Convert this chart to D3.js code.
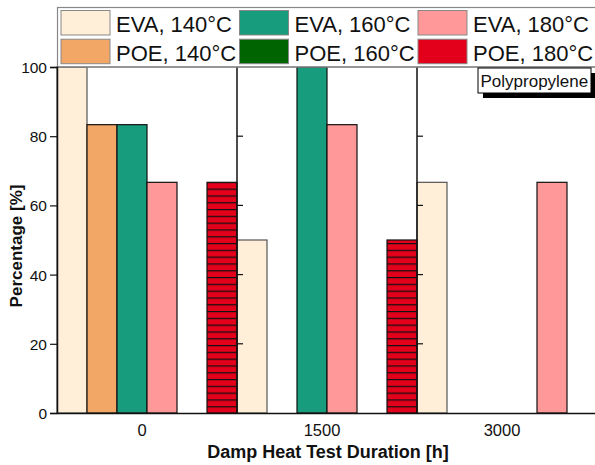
<!DOCTYPE html>
<html>
<head>
<meta charset="utf-8">
<script src="https://cdn.jsdelivr.net/npm/d3@7/dist/d3.min.js"></script>
<style>
  html, body { margin: 0; padding: 0; background: #fff; }
  svg { display: block; font-family: "Liberation Sans", Arial, sans-serif; }
</style>
</head>
<body>
<svg id="chart" width="595" height="465"></svg>
<script>
// ---- data ----
const categories = ["0", "1500", "3000"];
const seriesNames = ["EVA, 140°C", "POE, 140°C", "EVA, 160°C", "POE, 160°C", "EVA, 180°C", "POE, 180°C"];
const eva140 = [100, 50, 66.67];
const poe140 = [83.33, 0, 0];
const eva160 = [83.33, 100, 0];
const poe160 = [0, 0, 0];
const eva180 = [66.67, 83.33, 66.67];
const poe180 = [66.67, 50, 0];
const seriesValues = [eva140, poe140, eva160, poe160, eva180, poe180];
const seriesColors = ["#FFEED8", "#F2A766", "#179C7D", "#006400", "#FF9999", "#E2001A"];
// bar order inside each duration group (as arranged in the original plot)
const slotOrder0 = ["EVA, 140°C", "POE, 140°C", "EVA, 160°C", "EVA, 180°C", "POE, 160°C", "POE, 180°C"];
const slotOrder1500 = ["EVA, 140°C", "POE, 140°C", "EVA, 160°C", "EVA, 180°C", "POE, 160°C", "POE, 180°C"];
const slotOrder3000 = ["EVA, 140°C", "POE, 140°C", "EVA, 160°C", "POE, 160°C", "EVA, 180°C", "POE, 180°C"];
const slotOrders = [slotOrder0, slotOrder1500, slotOrder3000];
const yTicks = [0, 20, 40, 60, 80, 100];
const annotation = "Polypropylene";
const xTitle = "Damp Heat Test Duration [h]";
const yTitle = "Percentage [%]";

// ---- layout ----
const svg = d3.select("#chart");
const mLeft = 57, mTop = 67, mBottom = 413, mRight = 597;

const x0 = d3.scaleBand().domain(categories).range([mLeft, mRight]).padding(0);
const x1 = d3.scaleBand().domain(d3.range(seriesNames.length)).range([0, x0.bandwidth()]).padding(0);
const y = d3.scaleLinear().domain([0, 100]).range([mBottom, mTop]);

const defs = svg.append("defs");
const pat = defs.append("pattern")
  .attr("id", "hatch").attr("patternUnits", "userSpaceOnUse")
  .attr("width", 10).attr("height", 6.8)
  .attr("y", mBottom);
pat.append("rect").attr("width", 10).attr("height", 6.8).attr("fill", seriesColors[5]);
pat.append("rect").attr("y", 0).attr("width", 10).attr("height", 1.2).attr("fill", "#111");

defs.append("clipPath").attr("id", "clip")
  .append("rect").attr("x", 0).attr("y", 0).attr("width", 595).attr("height", 465);

const g = svg.append("g").attr("clip-path", "url(#clip)");

// bars
const rows = [];
seriesNames.forEach((s, si) => {
  categories.forEach((c, ci) => {
    rows.push({ s, si, c, ci, v: seriesValues[si][ci], slot: slotOrders[ci].indexOf(s) });
  });
});
g.selectAll("rect.bar").data(rows.filter(d => d.v > 0)).enter().append("rect")
  .attr("class", "bar")
  .attr("x", d => x0(d.c) + x1(d.slot))
  .attr("y", d => y(d.v))
  .attr("width", x1.bandwidth())
  .attr("height", d => y(0) - y(d.v))
  .attr("fill", d => d.si === 5 ? "url(#hatch)" : seriesColors[d.si])
  .attr("stroke", d => d.si === 0 ? "#555" : "#111")
  .attr("stroke-width", 1.2);

// group separators with inward ticks
categories.slice(1).forEach(c => {
  const xs = x0(c);
  g.append("line").attr("x1", xs).attr("x2", xs).attr("y1", mTop).attr("y2", mBottom)
    .attr("stroke", "#111").attr("stroke-width", 1.5);
  yTicks.slice(1, -1).forEach(t => {
    g.append("line").attr("x1", xs).attr("x2", xs + 6).attr("y1", y(t)).attr("y2", y(t))
      .attr("stroke", "#111").attr("stroke-width", 1.2);
  });
});

// y axis
const yAxis = d3.axisLeft(y).tickValues(yTicks).tickSize(7).tickPadding(3);
const ya = svg.append("g").attr("transform", `translate(${mLeft},0)`).call(yAxis);
ya.select(".domain").attr("stroke", "#111").attr("stroke-width", 1.5);
ya.selectAll(".tick line").attr("stroke", "#111").attr("stroke-width", 1.2);
ya.selectAll(".tick text").attr("font-size", 15.5).attr("fill", "#111")
  .attr("font-family", "Liberation Sans, Arial, sans-serif").attr("dy", "0.36em");

// x axis
const xAxis = d3.axisBottom(x0).tickSize(0).tickPadding(0);
const xa = g.append("g").attr("transform", `translate(0,${mBottom})`).call(xAxis);
xa.select(".domain").attr("stroke", "#111").attr("stroke-width", 1.5);
xa.selectAll(".tick text").attr("font-size", 16.5).attr("fill", "#111")
  .attr("font-family", "Liberation Sans, Arial, sans-serif")
  .attr("x", -5).attr("dy", 0).attr("y", 23);

// axis titles
svg.append("text").attr("x", 328).attr("y", 458)
  .attr("text-anchor", "middle").attr("font-weight", "bold").attr("font-size", 18)
  .attr("fill", "#111").text(xTitle);
svg.append("text").attr("transform", "translate(22,246) rotate(-90)")
  .attr("text-anchor", "middle").attr("font-weight", "bold").attr("font-size", 17)
  .attr("fill", "#111").text(yTitle);

// legend (column-major, two rows)
const lg = g.append("g");
lg.append("rect").attr("x", 57.5).attr("y", 7.5).attr("width", 560).attr("height", mTop - 7.5)
  .attr("fill", "#fff").attr("stroke", "#888").attr("stroke-width", 1.2);
seriesNames.forEach((name, i) => {
  const col = Math.floor(i / 2), row = i % 2;
  const lx = 61 + col * 178.5, ly = 10.5 + row * 28.7;
  lg.append("rect").attr("x", lx).attr("y", ly).attr("width", 49).attr("height", 24.5)
    .attr("fill", seriesColors[i]).attr("stroke", "#888").attr("stroke-width", 1);
  lg.append("text").attr("x", lx + 55).attr("y", ly + 21.3)
    .attr("font-size", 22).attr("fill", "#111").text(name);
});
// top border of plot (legend bottom)
g.append("line").attr("x1", mLeft).attr("x2", mRight).attr("y1", mTop).attr("y2", mTop)
  .attr("stroke", "#777").attr("stroke-width", 1.2);

// annotation box
const ab = g.append("g");
ab.append("rect").attr("x", 483).attr("y", 73).attr("width", 113).attr("height", 25).attr("fill", "#000");
ab.append("rect").attr("x", 478).attr("y", 68).attr("width", 113).attr("height", 25)
  .attr("fill", "#fff").attr("stroke", "#000").attr("stroke-width", 1);
ab.append("text").attr("x", 480.5).attr("y", 87).attr("font-size", 17).attr("fill", "#111").text(annotation);
</script>
</body>
</html>
